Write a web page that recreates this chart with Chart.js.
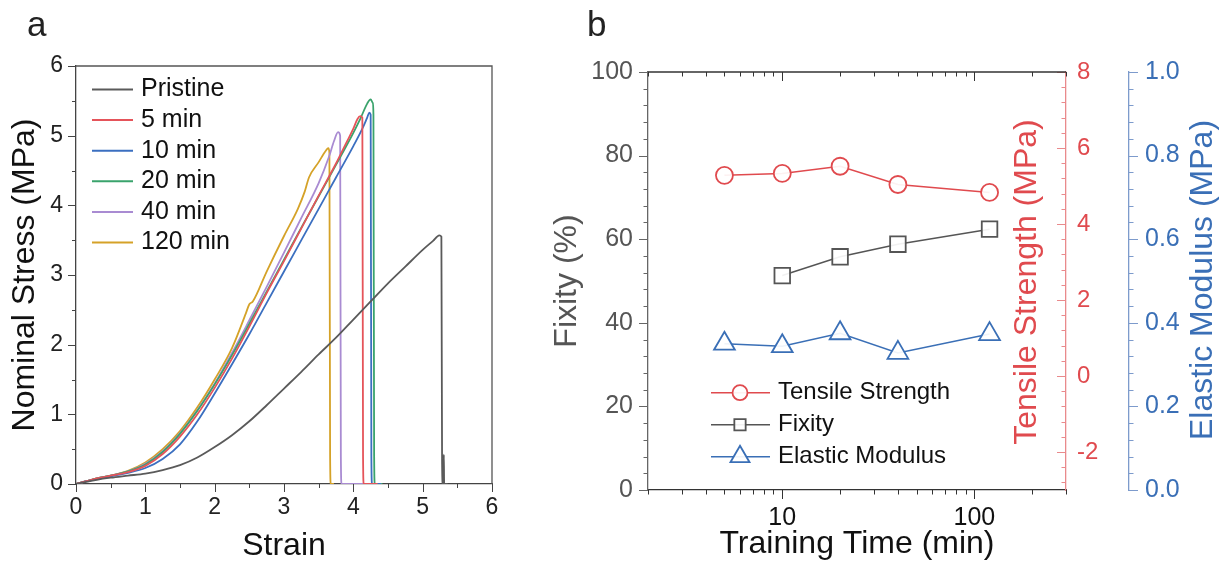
<!DOCTYPE html>
<html>
<head>
<meta charset="utf-8">
<title>Stress-strain and training time</title>
<script src="https://cdn.jsdelivr.net/npm/chart.js@4.4.1/dist/chart.umd.min.js"></script>
<style>
    body { margin: 0; background: #fff; width: 1230px; height: 576px; overflow: hidden; position: relative; font-family: 'Liberation Sans', Arial, sans-serif; }
    .wrap { position: absolute; top: 0; }
    .panel-label { position: absolute; font-size: 35px; line-height: 35px; color: #222; }
</style>
</head>
<body>
<div class="wrap" style="left:0;width:545px;height:576px"><canvas id="stressChart" width="545" height="576" style="width:545px;height:576px"></canvas></div>
<div class="wrap" style="left:545px;width:685px;height:576px"><canvas id="trainingChart" width="685" height="576" style="width:685px;height:576px"></canvas></div>
<div class="panel-label" style="left:27px;top:6px">a</div>
<div class="panel-label" style="left:587px;top:6px">b</div>

<script>
// ---- panel a : stress-strain curves (strain, MPa) ----
const sampleLabels = ['Pristine', '5 min', '10 min', '20 min', '40 min', '120 min'];
const sampleColors = ['#5a5a5a', '#e5545a', '#3b6fc0', '#3aa36c', '#a98bd2', '#d5a228'];

const pristineCurve = [[0,0],[0.15,0.03],[0.3,0.06],[0.5,0.09],[0.75,0.12],[1.0,0.15],[1.25,0.2],[1.5,0.27],[1.75,0.38],[2.0,0.53],[2.25,0.7],[2.5,0.9],[2.75,1.13],[3.0,1.37],[3.25,1.61],[3.5,1.86],[3.75,2.1],[4.0,2.36],[4.25,2.62],[4.5,2.88],[4.75,3.12],[5.0,3.36],[5.15,3.49],[5.24,3.57],[5.27,3.55],[5.28,0.3],[5.29,0],[5.3,0],[5.305,0.42],[5.31,0],[5.36,0]];
const min5Curve = [[0,0],[0.15,0.04],[0.3,0.08],[0.5,0.12],[0.75,0.17],[1.0,0.26],[1.25,0.43],[1.5,0.68],[1.75,1.0],[2.0,1.38],[2.25,1.8],[2.5,2.26],[2.75,2.74],[3.0,3.2],[3.25,3.67],[3.5,4.14],[3.75,4.6],[3.9,4.9],[4.0,5.1],[4.06,5.24],[4.1,5.28],[4.13,5.26],[4.14,0.4],[4.15,0],[4.35,0]];
const min10Curve = [[0,0],[0.15,0.04],[0.3,0.07],[0.5,0.11],[0.75,0.16],[1.0,0.23],[1.25,0.36],[1.5,0.57],[1.75,0.9],[2.0,1.3],[2.25,1.72],[2.5,2.15],[2.75,2.6],[3.0,3.05],[3.25,3.5],[3.5,3.95],[3.75,4.4],[4.0,4.85],[4.13,5.1],[4.2,5.26],[4.23,5.33],[4.25,5.3],[4.26,0.4],[4.27,0],[4.4,0]];
const min20Curve = [[0,0],[0.15,0.04],[0.3,0.08],[0.5,0.12],[0.75,0.18],[1.0,0.28],[1.25,0.46],[1.5,0.72],[1.75,1.05],[2.0,1.43],[2.25,1.85],[2.5,2.3],[2.75,2.76],[3.0,3.22],[3.25,3.68],[3.5,4.13],[3.75,4.58],[4.0,5.04],[4.1,5.24],[4.2,5.46],[4.25,5.52],[4.28,5.47],[4.29,5.3],[4.3,0.4],[4.31,0],[4.42,0]];
const min40Curve = [[0,0],[0.15,0.04],[0.3,0.08],[0.5,0.12],[0.75,0.18],[1.0,0.29],[1.25,0.47],[1.5,0.73],[1.75,1.06],[2.0,1.44],[2.25,1.88],[2.5,2.35],[2.75,2.83],[3.0,3.32],[3.25,3.82],[3.5,4.32],[3.65,4.7],[3.72,4.92],[3.78,5.05],[3.81,5.0],[3.82,0.4],[3.83,0],[4.4,0]];
const min120Curve = [[0,0],[0.15,0.04],[0.3,0.08],[0.5,0.12],[0.75,0.19],[1.0,0.31],[1.25,0.5],[1.5,0.76],[1.75,1.1],[2.0,1.5],[2.25,1.95],[2.45,2.45],[2.5,2.58],[2.55,2.62],[2.75,3.05],[3.0,3.56],[3.2,3.95],[3.3,4.2],[3.36,4.4],[3.5,4.62],[3.6,4.78],[3.64,4.82],[3.655,4.75],[3.665,0.4],[3.675,0],[3.72,0]];
const stressCurves = [pristineCurve, min5Curve, min10Curve, min20Curve, min40Curve, min120Curve];

const strainTicks = [0, 1, 2, 3, 4, 5, 6];
const stressTicks = [0, 1, 2, 3, 4, 5, 6];

// ---- panel b : properties vs training time ----
const trainingTime = [5, 10, 20, 40, 120];
const tensileStrength = [5.28, 5.33, 5.52, 5.04, 4.83];      // MPa
const fixity = [null, 51.3, 55.8, 58.8, 62.4];                // %
const elasticModulus = [0.35, 0.344, 0.375, 0.328, 0.373];    // MPa

const timeTickLabels = [10, 100];
const fixityTicks = [0, 20, 40, 60, 80, 100];
const tensileTicks = [-2, 0, 2, 4, 6, 8];
const modulusTicks = [0, 0.2, 0.4, 0.6, 0.8, 1.0];

const RED = '#e04a4e';
const BLUE = '#3a6fb6';
const GRAY = '#555555';
const FONT = "'Liberation Sans', Arial, sans-serif";
Chart.defaults.font.family = FONT;

// positions for minor tick marks
function steps(from, to, step) {
    const out = [];
    for (let v = from; v <= to + 1e-9; v += step) out.push(+v.toFixed(4));
    return out;
}
const logMinor = [2, 3, 4, 5, 6, 7, 8, 9, 20, 30, 40, 50, 60, 70, 80, 90, 200, 300];

// draws tick marks (major + minor) along an edge
const tickMarks = {
    id: 'tickMarks',
    afterDraw(chart, args, opts) {
        const ctx = chart.ctx;
        const area = chart.chartArea;
        (opts.sets || []).forEach(t => {
            const scale = chart.scales[t.scale];
            let base;
            if (t.edge === 'left') base = area.left;
            else if (t.edge === 'right') base = area.right;
            else if (t.edge === 'top') base = area.top;
            else if (t.edge === 'bottom') base = area.bottom;
            else base = scale.left;
            ctx.save();
            ctx.strokeStyle = t.color;
            ctx.lineWidth = 1;
            ctx.beginPath();
            t.values.forEach(v => {
                const p = Math.round(scale.getPixelForValue(v)) + 0.5;
                if (scale.isHorizontal()) {
                    ctx.moveTo(p, base);
                    ctx.lineTo(p, base + t.dir * t.len);
                } else {
                    ctx.moveTo(base, p);
                    ctx.lineTo(base + t.dir * t.len, p);
                }
            });
            ctx.stroke();
            ctx.restore();
        });
    }
};

// top / right frame lines
const frameLines = {
    id: 'frameLines',
    afterDraw(chart, args, opts) {
        const ctx = chart.ctx;
        const a = chart.chartArea;
        ctx.save();
        ctx.strokeStyle = opts.color;
        ctx.lineWidth = opts.width;
        ctx.beginPath();
        ctx.moveTo(a.left, a.top);
        ctx.lineTo(a.right, a.top);
        if (opts.right) ctx.lineTo(a.right, a.bottom);
        ctx.stroke();
        ctx.restore();
    }
};

// legend drawn inside the plot area
const innerLegend = {
    id: 'innerLegend',
    afterDraw(chart, args, opts) {
        const ctx = chart.ctx;
        ctx.save();
        ctx.font = opts.fontSize + 'px ' + FONT;
        ctx.textBaseline = 'middle';
        ctx.textAlign = 'left';
        opts.order.forEach((di, row) => {
            const ds = chart.data.datasets[di];
            const y = opts.y0 + row * opts.dy;
            ctx.strokeStyle = ds.borderColor;
            ctx.lineWidth = opts.lineWidth;
            ctx.beginPath();
            ctx.moveTo(opts.x0, y);
            ctx.lineTo(opts.x1, y);
            ctx.stroke();
            if (opts.markers) {
                ctx.fillStyle = ds.pointBackgroundColor;
                ctx.strokeStyle = ds.borderColor;
                ctx.lineWidth = ds.pointBorderWidth;
                Chart.helpers.drawPoint(ctx, {
                    pointStyle: ds.pointStyle,
                    radius: opts.markerRadius[row],
                    borderWidth: ds.pointBorderWidth,
                    rotation: 0
                }, opts.markerX, y);
            }
            ctx.fillStyle = opts.color;
            ctx.fillText(ds.label, opts.textX, y);
        });
        ctx.restore();
    }
};

// rotated titles for the right axes
const sideTitles = {
    id: 'sideTitles',
    afterDraw(chart, args, opts) {
        const ctx = chart.ctx;
        (opts.items || []).forEach(it => {
            ctx.save();
            ctx.translate(it.x, it.y);
            ctx.rotate(-Math.PI / 2);
            ctx.font = it.size + 'px ' + FONT;
            ctx.fillStyle = it.color;
            ctx.textAlign = 'center';
            ctx.textBaseline = 'middle';
            ctx.fillText(it.text, 0, 0);
            ctx.restore();
        });
    }
};

// Panel a
new Chart(document.getElementById('stressChart'), {
    type: 'line',
    data: {
        datasets: stressCurves.map((curve, i) => ({
            label: sampleLabels[i],
            data: curve.map(p => ({ x: p[0], y: p[1] })),
            borderColor: sampleColors[i],
            borderWidth: 1.8,
            pointRadius: 0,
            fill: false,
            cubicInterpolationMode: 'monotone'
        }))
    },
    options: {
        responsive: false,
        animation: false,
        devicePixelRatio: 1,
        layout: { padding: { left: 0, right: 53, top: 66, bottom: 0 } },
        plugins: {
            legend: { display: false },
            tooltip: { enabled: false },
            frameLines: { color: '#555', width: 1.3, right: true },
            innerLegend: { order: [0, 1, 2, 3, 4, 5], x0: 92, x1: 133, textX: 141, y0: 89.5, dy: 30.6, fontSize: 25, color: '#111', lineWidth: 2 },
            tickMarks: {
                sets: [
                    { scale: 'x', edge: 'bottom', dir: 1, len: 8, values: strainTicks, color: '#444' },
                    { scale: 'x', edge: 'bottom', dir: 1, len: 4, values: steps(0.5, 5.5, 1), color: '#444' },
                    { scale: 'y', edge: 'left', dir: -1, len: 8, values: stressTicks, color: '#444' },
                    { scale: 'y', edge: 'left', dir: -1, len: 4, values: steps(0.5, 5.5, 1), color: '#444' }
                ]
            }
        },
        scales: {
            x: {
                type: 'linear', min: 0, max: 6,
                afterBuildTicks: s => { s.ticks = strainTicks.map(v => ({ value: v })); },
                afterFit: s => { s.height = 92; },
                grid: { drawOnChartArea: false, drawTicks: false },
                border: { color: '#444', width: 1.3 },
                ticks: { padding: 10, font: { size: 23 }, color: '#222', maxRotation: 0 },
                title: { display: true, text: 'Strain', font: { size: 32 }, color: '#111', padding: { top: 0, bottom: 11 } }
            },
            y: {
                type: 'linear', min: 0, max: 6,
                afterBuildTicks: s => { s.ticks = stressTicks.map(v => ({ value: v })); },
                afterFit: s => { s.width = 76; },
                grid: { drawOnChartArea: false, drawTicks: false },
                border: { color: '#444', width: 1.3 },
                ticks: { padding: 13, font: { size: 23 }, color: '#222' },
                title: { display: true, text: 'Nominal Stress (MPa)', font: { size: 32 }, color: '#111', padding: { top: 6, bottom: 0 } }
            }
        }
    },
    plugins: [tickMarks, frameLines, innerLegend]
});

// Panel b
const pointFill = 'rgba(255,255,255,0.92)';
new Chart(document.getElementById('trainingChart'), {
    type: 'line',
    data: {
        datasets: [
            {
                label: 'Tensile Strength',
                data: trainingTime.map((t, i) => ({ x: t, y: tensileStrength[i] })),
                yAxisID: 'y2',
                borderColor: RED, borderWidth: 1.5,
                pointStyle: 'circle', pointRadius: 8.5, pointBorderWidth: 1.8,
                pointBackgroundColor: pointFill, pointBorderColor: RED
            },
            {
                label: 'Fixity',
                data: trainingTime.map((t, i) => ({ x: t, y: fixity[i] })),
                yAxisID: 'y',
                borderColor: GRAY, borderWidth: 1.5,
                pointStyle: 'rect', pointRadius: 11, pointBorderWidth: 1.8,
                pointBackgroundColor: pointFill, pointBorderColor: GRAY
            },
            {
                label: 'Elastic Modulus',
                data: trainingTime.map((t, i) => ({ x: t, y: elasticModulus[i] })),
                yAxisID: 'y3',
                borderColor: BLUE, borderWidth: 1.5,
                pointStyle: 'triangle', pointRadius: 12, pointBorderWidth: 1.8,
                pointBackgroundColor: pointFill, pointBorderColor: BLUE
            }
        ]
    },
    options: {
        responsive: false,
        animation: false,
        devicePixelRatio: 1,
        layout: { padding: { left: 0, right: 0, top: 72, bottom: 0 } },
        plugins: {
            legend: { display: false },
            tooltip: { enabled: false },
            frameLines: { color: '#333', width: 1.3, right: false },
            innerLegend: { order: [0, 1, 2], x0: 166, x1: 225, markerX: 195, textX: 233, y0: 392.7, dy: 32, fontSize: 24, color: '#111', lineWidth: 1.5, markers: true, markerRadius: [7.5, 8, 11] },
            sideTitles: {
                items: [
                    { text: 'Tensile Strength (MPa)', x: 482, y: 282, size: 32, color: RED },
                    { text: 'Elastic Modulus (MPa)', x: 658, y: 280, size: 32, color: BLUE }
                ]
            },
            tickMarks: {
                sets: [
                    { scale: 'x', edge: 'bottom', dir: 1, len: 9, values: timeTickLabels, color: '#333' },
                    { scale: 'x', edge: 'bottom', dir: 1, len: 4.5, values: logMinor, color: '#333' },
                    { scale: 'x', edge: 'top', dir: 1, len: 9, values: timeTickLabels, color: '#333' },
                    { scale: 'x', edge: 'top', dir: 1, len: 4.5, values: logMinor, color: '#333' },
                    { scale: 'y', edge: 'left', dir: -1, len: 9, values: fixityTicks, color: '#666' },
                    { scale: 'y', edge: 'left', dir: -1, len: 4.5, values: steps(0, 100, 4), color: '#666' },
                    { scale: 'y2', edge: 'right', dir: -1, len: 9, values: tensileTicks, color: '#e98a8c' },
                    { scale: 'y2', edge: 'right', dir: -1, len: 4.5, values: steps(-2.8, 8, 0.4), color: '#e98a8c' },
                    { scale: 'y3', edge: 'scale', dir: 1, len: 9, values: modulusTicks, color: '#7d9bcc' },
                    { scale: 'y3', edge: 'scale', dir: 1, len: 4.5, values: steps(0, 1, 0.04), color: '#7d9bcc' }
                ]
            }
        },
        scales: {
            x: {
                type: 'logarithmic', min: 2, max: 300,
                afterBuildTicks: s => { s.ticks = timeTickLabels.map(v => ({ value: v })); },
                afterFit: s => { s.height = 86; },
                grid: { drawOnChartArea: false, drawTicks: false },
                border: { color: '#333', width: 1.3 },
                ticks: { callback: v => String(v), padding: 13, font: { size: 25 }, color: '#111', autoSkip: false, maxRotation: 0 },
                title: { display: true, text: 'Training Time (min)', font: { size: 32 }, color: '#111', padding: { top: 0, bottom: 13 } }
            },
            y: {
                position: 'left', min: 0, max: 100,
                afterBuildTicks: s => { s.ticks = fixityTicks.map(v => ({ value: v })); },
                afterFit: s => { s.width = 103; },
                grid: { drawOnChartArea: false, drawTicks: false },
                border: { color: '#666', width: 1.3 },
                ticks: { padding: 15, font: { size: 25 }, color: GRAY },
                title: { display: true, text: 'Fixity (%)', font: { size: 32 }, color: GRAY, padding: { top: 3, bottom: 0 } }
            },
            y2: {
                position: 'right', weight: 0, min: -3, max: 8,
                afterBuildTicks: s => { s.ticks = tensileTicks.map(v => ({ value: v })); },
                afterFit: s => { s.width = 63; },
                grid: { drawOnChartArea: false, drawTicks: false },
                border: { color: '#e98a8c', width: 1.3 },
                ticks: { padding: 11, font: { size: 24 }, color: RED }
            },
            y3: {
                position: 'right', weight: 1, min: 0, max: 1,
                afterBuildTicks: s => { s.ticks = modulusTicks.map(v => ({ value: v })); },
                afterFit: s => { s.width = 101; },
                grid: { drawOnChartArea: false, drawTicks: false },
                border: { color: '#7d9bcc', width: 1.3 },
                ticks: { padding: 16, font: { size: 25 }, color: BLUE, callback: v => Number(v).toFixed(1) }
            }
        }
    },
    plugins: [tickMarks, frameLines, innerLegend, sideTitles]
});
</script>
</body>
</html>
